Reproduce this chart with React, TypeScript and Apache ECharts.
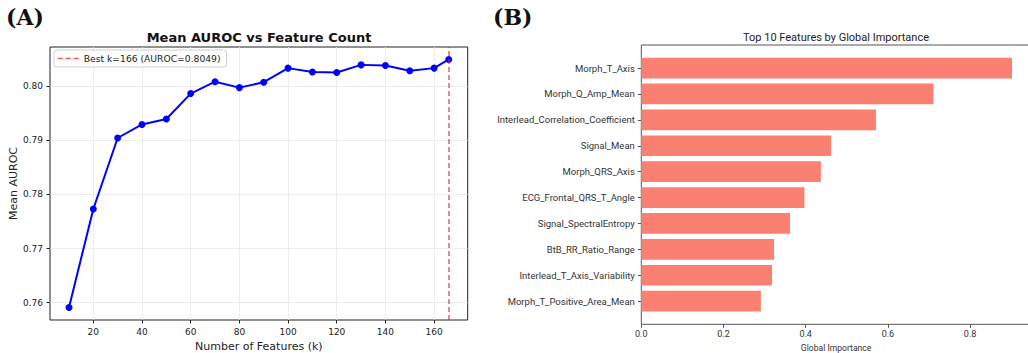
import React, { useEffect, useRef } from "react";
import * as echarts from "echarts";

// Panel A data
const featureCounts = [10, 20, 30, 40, 50, 60, 70, 80, 90, 100, 110, 120, 130, 140, 150, 160, 166];
const meanAuroc = [0.7591, 0.7773, 0.7904, 0.7929, 0.7939, 0.7986, 0.8008, 0.7997, 0.8007, 0.8033, 0.8026, 0.8025, 0.8039, 0.8038, 0.8028, 0.8033, 0.8049];
const bestK = 166;
const bestLabel = "Best k=166 (AUROC=0.8049)";
const xTicksA = [20, 40, 60, 80, 100, 120, 140, 160];
const yTicksA = [0.76, 0.77, 0.78, 0.79, 0.8];

// Panel B data
const featureNames = [
  "Morph_T_Axis",
  "Morph_Q_Amp_Mean",
  "Interlead_Correlation_Coefficient",
  "Signal_Mean",
  "Morph_QRS_Axis",
  "ECG_Frontal_QRS_T_Angle",
  "Signal_SpectralEntropy",
  "BtB_RR_Ratio_Range",
  "Interlead_T_Axis_Variability",
  "Morph_T_Positive_Area_Mean",
];
const importance = [0.902, 0.711, 0.571, 0.462, 0.437, 0.397, 0.362, 0.323, 0.318, 0.291];
const xTicksB = [0, 0.2, 0.4, 0.6, 0.8];

const SANS_A = "'DejaVu Sans', sans-serif";
const SANS_B = "Roboto, 'Noto Sans', sans-serif";
const RED = "rgba(230,40,40,0.75)";

export default function App() {
  const ref = useRef<HTMLDivElement>(null);
  useEffect(() => {
    const chart = echarts.init(ref.current!, null, { renderer: "svg" });
    const option: any = {
      animation: false,
      backgroundColor: "#ffffff",
      grid: [
        { left: 50, top: 47, width: 417.7, height: 273, show: true, borderColor: "#222", borderWidth: 1, backgroundColor: "transparent", outerBoundsMode: "none" },
        { left: 641.3, top: 45, width: 389.6, height: 279.3, show: true, borderColor: "#555", borderWidth: 1, backgroundColor: "transparent", outerBoundsMode: "none" },
        { left: 641.3, top: 55.1, width: 389.6, height: 259, outerBoundsMode: "none" },
      ],
      legend: {
        data: [bestLabel],
        left: 54,
        top: 50,
        orient: "horizontal",
        itemWidth: 21,
        itemHeight: 10,
        padding: [4, 6, 4, 3],
        borderColor: "#d0d0d0",
        borderWidth: 1,
        borderRadius: 3,
        backgroundColor: "rgba(255,255,255,0.85)",
        itemStyle: { opacity: 0 },
        lineStyle: { color: RED, width: 1.5, type: [5, 3], opacity: 1 },
        textStyle: { fontSize: 9.2, fontFamily: SANS_A, color: "#222" },
      },
      xAxis: [
        {
          type: "value",
          gridIndex: 0,
          min: 2.2,
          max: 173.8,
          minInterval: 20,
          maxInterval: 20,
          axisLine: { show: false },
          axisTick: { show: true, length: 3.5, customValues: xTicksA, lineStyle: { color: "#222" } },
          axisLabel: { customValues: xTicksA, margin: 7, fontSize: 9, fontFamily: SANS_A, color: "#222", formatter: (v: number) => String(v) },
          splitLine: { show: true, lineStyle: { color: "#e8e8e8", width: 0.8 } },
          name: "Number of Features (k)",
          nameLocation: "middle",
          nameGap: 19,
          nameTextStyle: { fontSize: 11, fontFamily: SANS_A, color: "#222" },
        },
        {
          type: "value",
          gridIndex: 1,
          min: 0,
          max: 0.948,
          axisLine: { show: false },
          axisTick: { show: true, length: 3.5, customValues: xTicksB, lineStyle: { color: "#555" } },
          axisLabel: { customValues: xTicksB, margin: 5, fontSize: 9, fontFamily: SANS_B, color: "#333", formatter: (v: number) => v.toFixed(1) },
          splitLine: { show: false },
          name: "Global Importance",
          nameLocation: "middle",
          nameGap: 15,
          nameTextStyle: { fontSize: 8.6, fontFamily: SANS_B, color: "#333" },
        },
        { type: "value", gridIndex: 2, min: 0, max: 0.948, show: false },
      ],
      yAxis: [
        {
          type: "value",
          gridIndex: 0,
          min: 0.7568,
          max: 0.8072,
          minInterval: 0.01,
          maxInterval: 0.01,
          axisLine: { show: false },
          axisTick: { show: true, length: 3.5, customValues: yTicksA, lineStyle: { color: "#222" } },
          axisLabel: { customValues: yTicksA, margin: 7, fontSize: 9, fontFamily: SANS_A, color: "#222", formatter: (v: number) => v.toFixed(2) },
          splitLine: { show: true, lineStyle: { color: "#e8e8e8", width: 0.8 } },
          name: "Mean AUROC",
          nameLocation: "middle",
          nameGap: 31,
          nameTextStyle: { fontSize: 11, fontFamily: SANS_A, color: "#222" },
        },
        { type: "value", gridIndex: 1, min: 0, max: 1, show: false },
        {
          type: "category",
          gridIndex: 2,
          data: featureNames,
          inverse: true,
          axisLine: { show: false },
          axisTick: { show: true, length: 3.5, alignWithLabel: true, lineStyle: { color: "#555" } },
          axisLabel: { margin: 6.5, fontSize: 9.5, fontFamily: SANS_B, color: "#333" },
          splitLine: { show: false },
        },
      ],
      graphic: [
        { type: "text", x: 6, y: 17, style: { text: "(A)", font: "bold 22px 'DejaVu Serif', serif", fill: "#111", align: "left", verticalAlign: "middle" } },
        { type: "text", x: 493, y: 17, style: { text: "(B)", font: "bold 22px 'DejaVu Serif', serif", fill: "#111", align: "left", verticalAlign: "middle" } },
        { type: "text", x: 259, y: 37, style: { text: "Mean AUROC vs Feature Count", font: "bold 13px 'DejaVu Sans', sans-serif", fill: "#111", align: "center", verticalAlign: "middle" } },
        { type: "text", x: 836, y: 37, style: { text: "Top 10 Features by Global Importance", font: "11px Roboto, sans-serif", fill: "#222", align: "center", verticalAlign: "middle" } },
      ],
      series: [
        {
          type: "line",
          name: "AUROC",
          xAxisIndex: 0,
          yAxisIndex: 0,
          data: featureCounts.map((k, i) => [k, meanAuroc[i]]),
          symbol: "circle",
          symbolSize: 7,
          itemStyle: { color: "#0000ff" },
          lineStyle: { color: "#0000ff", width: 2 },
          z: 3,
        },
        {
          type: "line",
          name: bestLabel,
          xAxisIndex: 0,
          yAxisIndex: 0,
          data: [],
          symbol: "none",
          itemStyle: { color: RED },
          lineStyle: { color: RED, width: 1.5, type: [5, 3] },
          markLine: {
            silent: true,
            symbol: "none",
            label: { show: false },
            lineStyle: { color: RED, width: 1.5, type: [5, 3] },
            data: [{ xAxis: bestK }],
          },
          z: 2,
        },
        {
          type: "bar",
          xAxisIndex: 2,
          yAxisIndex: 2,
          data: importance,
          barCategoryGap: "20%",
          itemStyle: { color: "#fa8072" },
        },
      ],
    };
    chart.setOption(option);
    return () => chart.dispose();
  }, []);
  return (
    <div
      ref={ref}
      style={{ position: "fixed", left: 0, top: 0, width: 1028, height: 353, background: "#fff" }}
    />
  );
}
